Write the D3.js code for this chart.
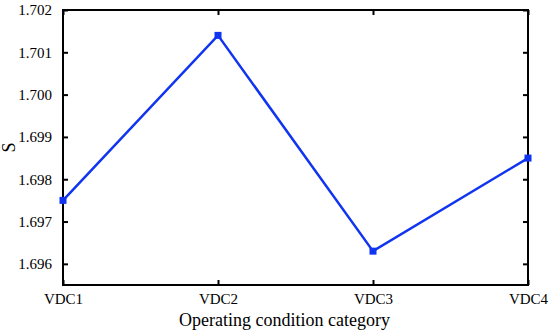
<!DOCTYPE html>
<html>
<head>
<meta charset="utf-8">
<script src="https://cdn.jsdelivr.net/npm/d3@7"></script>
<style>
  body { margin: 0; background: #fff; }
  text { font-family: "Liberation Serif", "Times New Roman", serif; }
</style>
</head>
<body>
<div id="chart"></div>
<script>
// Data
var categories = ["VDC1", "VDC2", "VDC3", "VDC4"];
var values = [1.6975, 1.7014, 1.6963, 1.6985];
var yTicks = [1.696, 1.697, 1.698, 1.699, 1.700, 1.701, 1.702];

var margin = { top: 10, right: 22, bottom: 47, left: 63 };
var width = 550 - margin.left - margin.right;
var height = 332 - margin.top - margin.bottom;

var x = d3.scalePoint().domain(categories).range([0, width]);
var y = d3.scaleLinear().domain([1.6955, 1.702]).range([height, 0]);

var svg = d3.select("#chart")
  .append("svg")
  .attr("width", 550)
  .attr("height", 332)
  .append("g")
  .attr("transform", "translate(" + margin.left + "," + margin.top + ")");

// Axes (ticks pointing inward)
var fmt = d3.format(".3f");
function styleAxis(g) {
  g.attr("font-family", "Liberation Serif, Times New Roman, serif").attr("font-size", 15);
  g.select(".domain").remove();
  g.selectAll(".tick line").attr("stroke", "#000").attr("stroke-width", 2);
  g.selectAll(".tick text").attr("fill", "#000");
}

svg.append("g")
  .attr("transform", "translate(0," + height + ")")
  .call(d3.axisBottom(x).tickSizeInner(-5).tickSizeOuter(0).tickPadding(8))
  .call(styleAxis);

svg.append("g")
  .call(d3.axisTop(x).tickSizeInner(-5).tickSizeOuter(0).tickFormat(""))
  .call(styleAxis);

svg.append("g")
  .call(d3.axisLeft(y).tickValues(yTicks).tickFormat(fmt).tickSizeInner(-5).tickSizeOuter(0).tickPadding(11))
  .call(styleAxis);

svg.append("g")
  .attr("transform", "translate(" + width + ",0)")
  .call(d3.axisRight(y).tickValues(yTicks).tickFormat("").tickSizeInner(-5).tickSizeOuter(0))
  .call(styleAxis);

// Frame
svg.append("rect")
  .attr("width", width)
  .attr("height", height)
  .attr("fill", "none")
  .attr("stroke", "#000")
  .attr("stroke-width", 2);

// Line
var line = d3.line()
  .x(function (d, i) { return x(categories[i]); })
  .y(function (d) { return y(d); });

svg.append("path")
  .datum(values)
  .attr("fill", "none")
  .attr("stroke", "#1034f0")
  .attr("stroke-width", 2.5)
  .attr("d", line);

svg.selectAll(".marker")
  .data(values)
  .enter().append("rect")
  .attr("class", "marker")
  .attr("x", function (d, i) { return x(categories[i]) - 3.5; })
  .attr("y", function (d) { return y(d) - 3.5; })
  .attr("width", 7)
  .attr("height", 7)
  .attr("fill", "#1034f0");

// Labels
svg.append("text")
  .attr("x", width / 2 - 11)
  .attr("y", height + 41)
  .attr("text-anchor", "middle")
  .style("font-size", "18px")
  .text("Operating condition category");

svg.append("text")
  .attr("transform", "translate(-48," + (height / 2) + ") rotate(-90)")
  .attr("text-anchor", "middle")
  .style("font-size", "18px")
  .text("S");
</script>
</body>
</html>
